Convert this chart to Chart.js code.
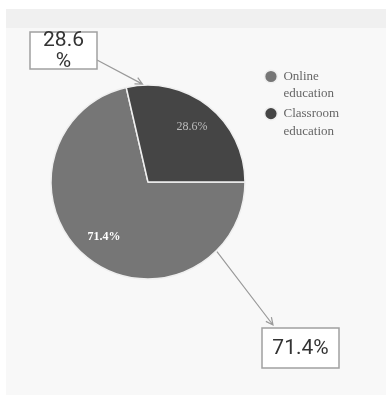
<!DOCTYPE html>
<html>
<head>
<meta charset="utf-8">
<script src="https://cdn.jsdelivr.net/npm/chart.js@4"></script>
<style>
  body { margin: 0; background: #ffffff; }
  #panel { position: absolute; left: 6px; top: 9px; width: 380px; height: 386px; background: #f8f8f8; }
  #band { height: 19px; background: #f0f0f0; }
  #wrap { position: absolute; left: 0; top: 0; width: 386px; height: 398px; }
</style>
</head>
<body>
<div id="panel"><div id="band"></div></div>
<div id="wrap"><canvas id="pie"></canvas></div>
<script>
// categorias (cada linha da legenda é um item do array)
const categorias = [['Online', 'education'], ['Classroom', 'education']];
const valores = [71.4, 28.6];
const cores = ['#767676', '#454545'];
const coresRotulo = ['#ffffff', '#bdbdbd'];

function pct(i) {
    const total = valores.reduce((a, b) => a + b, 0);
    return (valores[i] / total * 100).toFixed(1) + '%';
}

// desenha os rótulos dentro das fatias e as caixas com setas
const rotulos = {
    id: 'rotulos',
    afterDatasetsDraw(chart) {
        const ctx = chart.ctx;
        const arcs = chart.getDatasetMeta(0).data;
        ctx.save();

        // rótulos internos
        arcs.forEach((arc, i) => {
            const meio = (arc.startAngle + arc.endAngle) / 2;
            const r = arc.outerRadius * 0.73;
            ctx.font = (i === 0 ? 'bold ' : '') + '12px "Liberation Serif"';
            ctx.fillStyle = coresRotulo[i];
            ctx.textAlign = 'center';
            ctx.textBaseline = 'middle';
            ctx.fillText(pct(i), arc.x + Math.cos(meio) * r, arc.y + Math.sin(meio) * r);
        });

        // caixas externas: indice da fatia, angulo (rad) a partir do inicio da fatia, caixa, origem da seta
        const caixas = [
            { i: 1, desloc: 0.17, box: [30, 32, 67, 37], de: [97, 60] },
            { i: 0, desloc: 0.79, box: [262, 328, 77, 40], de: null }
        ];
        caixas.forEach(c => {
            const arc = arcs[c.i];
            const ang = arc.startAngle + c.desloc;
            const px = arc.x + Math.cos(ang) * (arc.outerRadius + 1);
            const py = arc.y + Math.sin(ang) * (arc.outerRadius + 1);
            const [bx, by, bw, bh] = c.box;

            // seta
            let x0, y0, x1, y1;
            if (c.de) { x0 = c.de[0]; y0 = c.de[1]; x1 = px; y1 = py; }
            else { x0 = px; y0 = py; x1 = bx + 11; y1 = by - 3; }
            ctx.strokeStyle = '#9a9a9a';
            ctx.lineWidth = 1.2;
            ctx.beginPath();
            ctx.moveTo(x0, y0);
            ctx.lineTo(x1, y1);
            const a = Math.atan2(y1 - y0, x1 - x0);
            ctx.moveTo(x1 - 8 * Math.cos(a - 0.45), y1 - 8 * Math.sin(a - 0.45));
            ctx.lineTo(x1, y1);
            ctx.lineTo(x1 - 8 * Math.cos(a + 0.45), y1 - 8 * Math.sin(a + 0.45));
            ctx.stroke();

            // caixa
            ctx.fillStyle = '#ffffff';
            ctx.fillRect(bx, by, bw, bh);
            ctx.strokeStyle = '#a0a0a0';
            ctx.lineWidth = 1.5;
            ctx.strokeRect(bx, by, bw, bh);

            // texto (quebra antes do % se nao couber)
            ctx.font = '21px Roboto';
            ctx.fillStyle = '#333333';
            ctx.textAlign = 'center';
            ctx.textBaseline = 'middle';
            const txt = pct(c.i);
            const cx = bx + bw / 2;
            if (ctx.measureText(txt).width > bw - 14) {
                ctx.fillText(txt.slice(0, -1), cx, by + 9);
                ctx.fillText('%', cx, by + 30);
            } else {
                ctx.fillText(txt, cx, by + bh / 2 + 1);
            }
        });
        ctx.restore();
    }
};

const area = document.getElementById('pie').getContext('2d');

new Chart(area, {
    type: 'pie',
    data: {
        labels: categorias,
        datasets: [{
            data: valores,
            backgroundColor: cores,
            borderColor: '#efefef',
            borderWidth: 1.5,
            hoverOffset: 0
        }]
    },
    options: {
        responsive: true,
        maintainAspectRatio: false,
        animation: false,
        rotation: 90, // a primeira fatia começa na direita
        radius: 97,
        layout: { padding: { left: 33, top: 68, bottom: 102, right: 42 } },
        plugins: {
            legend: {
                position: 'right',
                align: 'start',
                labels: {
                    usePointStyle: true,
                    pointStyle: 'circle',
                    boxWidth: 12,
                    boxHeight: 9,
                    padding: 2,
                    color: '#666666',
                    font: { family: '"Liberation Serif"', size: 13, lineHeight: 1.35 }
                }
            },
            tooltip: { enabled: false }
        }
    },
    plugins: [rotulos]
});
</script>
</body>
</html>
